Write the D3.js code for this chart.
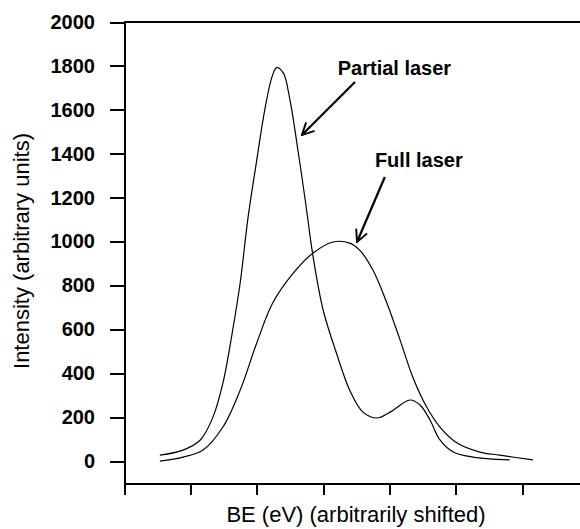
<!DOCTYPE html>
<html>
<head>
<meta charset="utf-8">
<script src="https://cdn.jsdelivr.net/npm/d3@7"></script>
<style>
  body { margin: 0; background: #fff; }
  svg { display: block; font-family: "Liberation Sans", Arial, sans-serif; }
</style>
</head>
<body>
<svg width="580" height="529"></svg>
<script>
// values (x in tick units, y in arbitrary intensity)
const partialX = [0.54, 0.89, 1.15, 1.34, 1.49, 1.63, 1.75, 1.87, 2.0, 2.12, 2.23, 2.3, 2.4, 2.5, 2.62, 2.73, 2.85, 3.0, 3.21, 3.4, 3.6, 3.81, 4.01, 4.31, 4.46, 4.61, 4.76, 4.96, 5.26, 5.81];
const partialY = [27, 50, 96, 200, 355, 583, 811, 1112, 1371, 1599, 1750, 1792, 1768, 1645, 1417, 1189, 929, 688, 483, 323, 223, 196, 223, 278, 255, 187, 96, 41, 18, 5];

const fullX = [0.54, 0.89, 1.19, 1.49, 1.75, 2.0, 2.24, 2.55, 2.85, 3.15, 3.4, 3.55, 3.75, 3.96, 4.16, 4.35, 4.56, 4.76, 5.02, 5.36, 5.66, 6.16];
const fullY = [0, 18, 50, 155, 323, 538, 720, 856, 948, 998, 993, 961, 870, 720, 551, 383, 246, 155, 82, 41, 27, 5];

const yTicks = [0, 200, 400, 600, 800, 1000, 1200, 1400, 1600, 1800, 2000];
const xTicks = [0, 1, 2, 3, 4, 5, 6];

// annotation labels with arrow start / tip in data units
const labels = ['Partial laser', 'Full laser'];
const labelPos = [[3.22, 1759], [3.78, 1339]];
const arrowFrom = [[3.48, 1727], [3.93, 1294]];
const arrowTo = [[2.68, 1485], [3.51, 998]];

const svg = d3.select('svg');
const width = 580, height = 529;

const x = d3.scaleLinear().domain([0, 6.87]).range([124, 580]);
const y = d3.scaleLinear().domain([-100, 2000]).range([483, 22]);

// x axis (no labels)
svg.append('g')
  .attr('transform', `translate(0,${y(-100)})`)
  .call(d3.axisBottom(x).tickValues(xTicks).tickSize(12).tickSizeOuter(0).tickFormat(''))
  .call(g => g.selectAll('path, line').attr('stroke', '#000').attr('stroke-width', 2).attr('shape-rendering', 'crispEdges'));

// y axis
svg.append('g')
  .attr('transform', `translate(${x(0)},0)`)
  .call(d3.axisLeft(y).tickValues(yTicks).tickFormat(d3.format('d')).tickSize(14).tickPadding(15).tickSizeOuter(0))
  .call(g => g.selectAll('path, line').attr('stroke', '#000').attr('stroke-width', 2).attr('shape-rendering', 'crispEdges'))
  .call(g => g.selectAll('text')
    .attr('fill', '#000')
    .style('font-size', '20px')
    .style('font-weight', 'bold'));

// top border line
svg.append('line')
  .attr('x1', x(0)).attr('x2', width)
  .attr('y1', y(2000)).attr('y2', y(2000))
  .attr('stroke', '#000').attr('stroke-width', 2)
  .attr('shape-rendering', 'crispEdges');

// axis titles
svg.append('text')
  .attr('x', 356).attr('y', 522)
  .attr('text-anchor', 'middle')
  .style('font-size', '22px')
  .text('BE (eV) (arbitrarily shifted)');

svg.append('text')
  .attr('transform', 'translate(29,251) rotate(-90)')
  .attr('text-anchor', 'middle')
  .style('font-size', '22px')
  .text('Intensity (arbitrary units)');

// curves
const line = d3.line()
  .x(d => x(d[0]))
  .y(d => y(d[1]))
  .curve(d3.curveCatmullRom.alpha(0.5));

[[partialX, partialY], [fullX, fullY]].forEach(function (s) {
  svg.append('path')
    .datum(d3.zip(s[0], s[1]))
    .attr('d', line)
    .attr('fill', 'none')
    .attr('stroke', '#000')
    .attr('stroke-width', 1.2);
});

// arrows and labels
svg.append('defs').append('marker')
  .attr('id', 'head')
  .attr('viewBox', '0 0 12 12')
  .attr('refX', 11).attr('refY', 6)
  .attr('markerWidth', 6.5).attr('markerHeight', 6.5)
  .attr('markerUnits', 'strokeWidth')
  .attr('orient', 'auto')
  .append('path')
  .attr('d', 'M1,1 L11,6 L1,11')
  .attr('fill', 'none')
  .attr('stroke', '#000')
  .attr('stroke-width', 1.6);

labels.forEach(function (t, i) {
  svg.append('text')
    .attr('x', x(labelPos[i][0]))
    .attr('y', y(labelPos[i][1]))
    .style('font-size', '20px')
    .style('font-weight', 'bold')
    .text(t);

  svg.append('line')
    .attr('x1', x(arrowFrom[i][0])).attr('y1', y(arrowFrom[i][1]))
    .attr('x2', x(arrowTo[i][0])).attr('y2', y(arrowTo[i][1]))
    .attr('stroke', '#000')
    .attr('stroke-width', 2.2)
    .attr('marker-end', 'url(#head)');
});
</script>
</body>
</html>
